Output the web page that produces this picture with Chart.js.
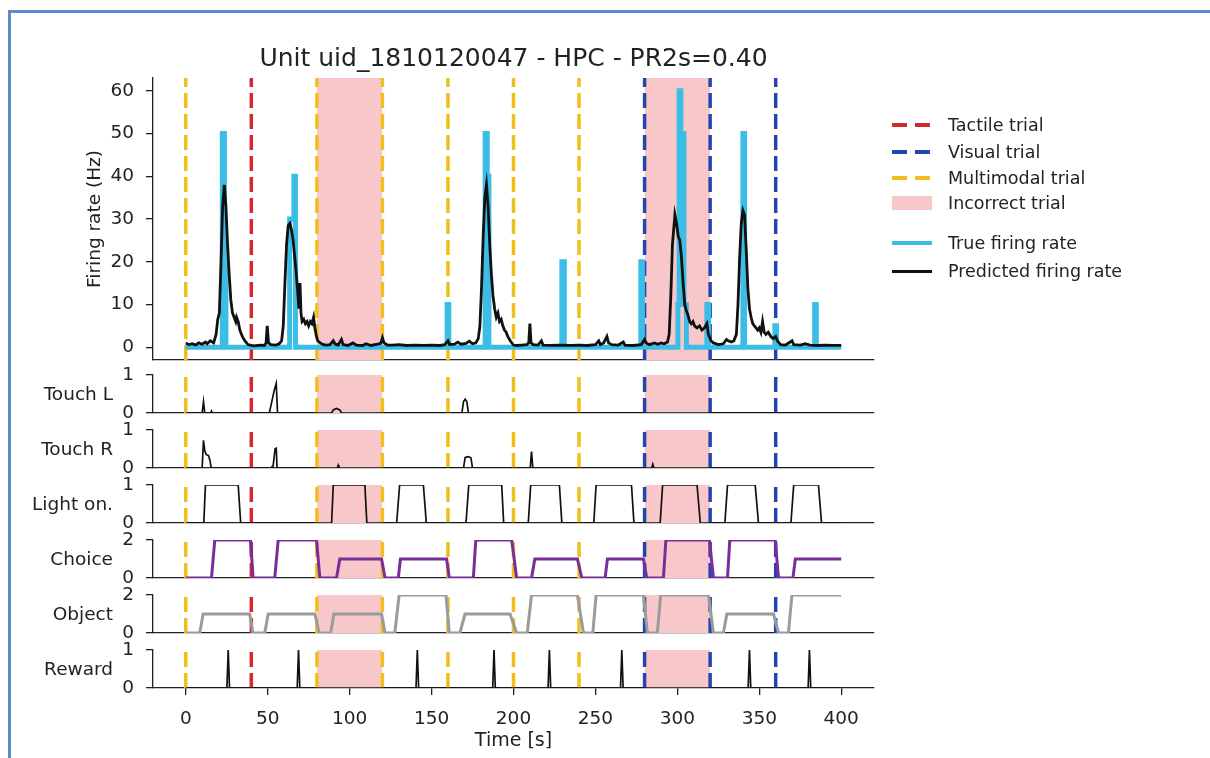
<!DOCTYPE html>
<html><head><meta charset="utf-8">
<script src="https://cdn.jsdelivr.net/npm/chart.js@4.4.0/dist/chart.umd.min.js"></script>
<style>
html,body{margin:0;padding:0;background:#fff;width:1210px;height:758px;overflow:hidden;position:relative;font-family:'DejaVu Sans',sans-serif;}
#frame{position:absolute;left:8px;top:10px;width:1220px;height:770px;border-top:3px solid #5b8ad0;border-left:3px solid #5b8ad0;}
canvas{position:absolute;left:0;}
.lg-line{position:absolute;left:892px;width:40px;}
.lg-text{position:absolute;left:948px;font-size:17.5px;color:#222;line-height:20px;white-space:nowrap;}
</style></head>
<body>
<div id="frame"></div>
<div id="charts"></div>
<div id="legend"></div>
<script>
const FONT = "'DejaVu Sans', sans-serif";
const INK = '#222222';

const timeTicks = [0, 50, 100, 150, 200, 250, 300, 350, 400];
const rateTicks = [0, 10, 20, 30, 40, 50, 60];
const binaryTicks = [0, 1];
const ternaryTicks = [0, 2];

const tactileTrials = [40];
const visualTrials = [280, 320, 360];
const multimodalTrials = [0, 80, 120, 160, 200, 240];
const incorrectTrials = [[80, 120], [280, 320]];

// True firing rate (binned, step-like)
const trueT = [0, 22.3, 22.3, 23.6, 23.6, 24.5, 24.5, 63.4, 63.4, 66, 66, 67, 67,
  159.5, 159.5, 160.5, 160.5, 182.7, 182.7, 184, 184, 185, 185,
  229.5, 229.5, 231, 231, 277.7, 277.7, 278.7, 278.7,
  300.3, 300.3, 301.1, 301.1, 302.1, 302.1, 304, 304, 305.5, 305.5,
  318, 318, 319, 319, 340, 340, 341, 341, 359.5, 359.5, 360.5, 360.5,
  383.8, 383.8, 384.8, 384.8, 400];
const trueRate = [0, 0, 50, 50, 20, 20, 0, 0, 30, 30, 40, 40, 0,
  0, 10, 10, 0, 0, 50, 50, 40, 40, 0,
  0, 20, 20, 0, 0, 20, 20, 0,
  0, 10, 10, 60, 60, 50, 50, 10, 10, 0,
  0, 10, 10, 0, 0, 50, 50, 0, 0, 5, 5, 0,
  0, 10, 10, 0, 0];

// Predicted firing rate
const predT = [0, 2, 4, 6, 8, 10, 12, 13, 15, 17, 18.5, 19.5, 20.5, 21.5, 22.5, 23.5, 24.5, 25.5, 26.5, 27.5,
  28.5, 29.5, 30.5, 31, 32, 33, 34.5, 36, 38, 40, 42, 44, 46, 48, 49, 49.7, 50.5, 52, 55, 57,
  58.5, 59.5, 60.5, 61.5, 62.5, 63.5, 64.5, 65.5, 66.5, 67.5, 68.5, 69, 69.7, 70.3, 71, 72, 73, 74, 75, 76,
  77, 78, 78.8, 79.5, 80.5, 82, 84, 86, 88, 90, 91, 93, 95, 96, 99, 102, 104, 108, 110, 113,
  117, 119, 120, 121, 123, 126, 130, 135, 140, 145, 150, 155, 158, 160, 161, 164, 166, 168, 171, 173,
  175, 177, 178.5, 179.5, 180.5, 181.5, 182.5, 183.5, 184.5, 185.5, 186.5, 187.5, 188.5, 189.5, 190.5, 191.5, 192.5, 193.5, 194.5, 195.5,
  196.5, 198, 200, 202, 205, 208, 209.3, 210, 210.7, 212, 215, 217, 218, 222, 228, 235, 240, 245, 250, 252,
  253, 255, 257, 258, 260, 264, 267, 268, 273, 278, 280, 281, 283, 286, 288, 290, 292, 294, 295, 296,
  297, 298.5, 299.5, 300.5, 301.5, 302.5, 303.5, 304.5, 305.5, 306.5, 307.5, 308.5, 309.5, 310.5, 312, 313.5, 315, 316.5, 318, 319,
  320.5, 322, 325, 328, 330, 331, 333, 334.5, 336, 337, 338, 339, 340, 341, 342, 343, 344, 345, 346, 347,
  348, 349, 350, 351, 352, 353, 354, 355.5, 357, 358.5, 360, 361, 363, 366, 370, 371, 375, 378, 381, 386,
  390, 395, 400];
const predRate = [1.0, 0.6, 0.8, 0.5, 1.0, 0.7, 1.2, 0.8, 1.5, 1.0, 3, 6.5, 8, 20, 33, 38, 33, 24, 17, 11,
  8, 7, 6, 7, 6, 4, 2.5, 1.5, 0.6, 0.4, 0.3, 0.4, 0.5, 0.4, 1, 5, 1, 0.6, 0.5, 0.8,
  1.5, 5, 15, 24, 28.5, 29, 27.5, 25, 21, 17, 12, 9, 15, 8, 6, 6.5, 5.5, 6, 5, 6,
  5.5, 7, 4.5, 3, 1.5, 1, 0.6, 0.5, 0.6, 1.5, 0.8, 0.5, 1.8, 0.6, 0.4, 1.0, 0.5, 0.4, 0.8, 0.4,
  0.7, 0.9, 2.2, 1.0, 0.5, 0.5, 0.6, 0.4, 0.5, 0.4, 0.5, 0.4, 0.6, 1.5, 0.6, 0.7, 1.2, 0.7, 0.9, 1.4,
  0.8, 1.0, 2, 5, 14, 26, 35, 38, 33, 24, 17, 12, 9, 7, 8, 6, 6.5, 5, 4, 3.5,
  2.5, 1.5, 0.5, 0.4, 0.5, 0.6, 1, 5.5, 1, 0.6, 0.5, 1.5, 0.5, 0.4, 0.5, 0.4, 0.5, 0.4, 0.6, 1.5,
  0.6, 1.0, 2.5, 1.0, 0.6, 0.5, 1.2, 0.5, 0.4, 0.6, 1.8, 1.0, 0.6, 1.0, 0.7, 1.0, 0.8, 1.2, 3, 12,
  24, 31, 29, 26, 25, 21, 15, 10, 8.5, 7.5, 6, 5.5, 6, 5, 4.5, 5, 4, 4.5, 5.5, 3,
  1.5, 1, 0.6, 0.8, 1.8, 1.5, 1.2, 1.5, 3, 10, 21, 29, 32, 31, 23, 14, 9, 7, 5.5, 5,
  4.5, 4, 4.5, 3.5, 6, 3.5, 3, 3.5, 2.5, 2, 2.5, 1.5, 0.6, 0.5, 1.5, 0.6, 0.5, 0.8, 0.5, 0.4,
  0.5, 0.4, 0.4];

const touchLT = [0, 10, 10.8, 11.6, 15.2, 15.7, 16.2, 51, 52.5, 54, 55.2, 56, 89, 90, 92, 94, 95, 168.5, 169.5, 170.5, 171.5, 172.5, 400];
const touchLV = [0, 0, 0.3, 0, 0, 0.05, 0, 0, 0.3, 0.6, 0.78, 0, 0, 0.08, 0.12, 0.08, 0, 0, 0.3, 0.36, 0.3, 0, 0];

const touchRT = [0, 10, 10.8, 11.6, 12.5, 13.8, 14.8, 15.5, 52, 52.5, 53.3, 54.5, 55.2, 55.7, 92.5, 93, 93.5,
  169.5, 170.5, 172.5, 174, 175, 210.2, 211, 211.8, 284.3, 285, 285.7, 400];
const touchRV = [0, 0, 0.73, 0.45, 0.35, 0.33, 0.2, 0, 0, 0.03, 0.05, 0.5, 0.52, 0, 0, 0.07, 0,
  0, 0.28, 0.3, 0.27, 0, 0, 0.43, 0, 0, 0.1, 0, 0];

const lightT = [0, 11, 12, 32, 33.5, 89, 90, 109.3, 110.5, 128.7, 130.5, 145, 146.8, 171, 172.7, 192.8, 194,
  209, 210.5, 228, 229.5, 249, 250.4, 272, 273.5, 289.5, 291, 312, 314, 329, 330.6, 347.5, 349.5,
  369.3, 371, 386.1, 388, 400];
const lightV = [0, 0, 1, 1, 0, 0, 1, 1, 0, 0, 1, 1, 0, 0, 1, 1, 0,
  0, 1, 1, 0, 0, 1, 1, 0, 0, 1, 1, 0, 0, 1, 1, 0,
  0, 1, 1, 0, 0];

const choiceT = [0, 15.7, 17.7, 39.5, 41.1, 54.3, 56.4, 79.8, 81.8, 92, 94, 119.5, 121.6, 129.7, 131, 159.2, 160.8,
  175.5, 177, 198.9, 201.9, 211, 213, 239, 241.7, 255.9, 257.3, 279.3, 281.3, 291.5, 293, 319.6, 322,
  330.6, 332, 359.7, 361.7, 370.5, 372, 400];
const choiceV = [0, 0, 2, 2, 0, 0, 2, 2, 0, 0, 1, 1, 0, 0, 1, 1, 0,
  0, 2, 2, 0, 0, 1, 1, 0, 0, 1, 1, 0, 0, 2, 2, 0,
  0, 2, 2, 0, 0, 1, 1];

const objectT = [0, 8.5, 10.6, 39, 41, 48.2, 50.3, 78.8, 81.4, 88.4, 90.4, 119.5, 121.6, 127.6, 130.2, 158.8, 160.8,
  167.3, 170.4, 197.9, 201.9, 208.4, 211, 239, 242.7, 248.4, 250.4, 279.3, 281.7, 287.8, 289.8, 319, 322,
  328.1, 330.2, 358.7, 361.7, 367.8, 369.9, 400];
const objectV = [0, 0, 1, 1, 0, 0, 1, 1, 0, 0, 1, 1, 0, 0, 2, 2, 0,
  0, 1, 1, 0, 0, 2, 2, 0, 0, 2, 2, 0, 0, 2, 2, 0,
  0, 1, 1, 0, 0, 2, 2];

const rewardT = [0, 25.1, 25.9, 26.7, 68, 68.8, 69.6, 140.5, 141.3, 142.1, 187.3, 188.1, 188.9,
  221.1, 221.9, 222.7, 265.3, 266.1, 266.9, 343.2, 344, 344.8, 379.8, 380.6, 381.4, 400];
const rewardV = [0, 0, 1, 0, 0, 1, 0, 0, 1, 0, 0, 1, 0,
  0, 1, 0, 0, 1, 0, 0, 1, 0, 0, 1, 0, 0];

const legendItems = [
  {text: 'Tactile trial', kind: 'dash', color: '#d42a2f', y: 125},
  {text: 'Visual trial', kind: 'dash', color: '#2444b0', y: 152},
  {text: 'Multimodal trial', kind: 'dash', color: '#f2bf1a', y: 178},
  {text: 'Incorrect trial', kind: 'box', color: '#f8c7ca', y: 203},
  {text: 'True firing rate', kind: 'line', color: '#3bbde6', y: 243, w: 4},
  {text: 'Predicted firing rate', kind: 'line', color: '#111111', y: 271, w: 3}
];

const COLORS = {tactile: '#d42a2f', visual: '#2444b0', multi: '#f2bf1a', pink: '#f8c7ca',
  cyan: '#3bbde6', black: '#111111', purple: '#7a2c9b', gray: '#9b9b9b'};

function xy(ts, vs) { return ts.map((t, i) => ({x: t, y: vs[i]})); }

function trialLines(times, color, ymin, ymax) {
  const data = [];
  times.forEach(t => { data.push({x: t, y: ymin}, {x: t, y: ymax}, {x: t, y: null}); });
  return {data, borderColor: color, borderWidth: 3.5, borderDash: [15, 6], borderCapStyle: 'butt',
    pointRadius: 0, spanGaps: false, order: 5};
}
function spans(ymax) {
  return incorrectTrials.map(([s, e]) => ({data: [{x: s, y: ymax}, {x: e, y: ymax}],
    borderWidth: 0, borderColor: 'rgba(0,0,0,0)', backgroundColor: COLORS.pink, fill: 'start', pointRadius: 0, order: 10}));
}

const panelLabel = {
  id: 'panelLabel',
  afterDraw(chart, args, opts) {
    if (!opts || !opts.text) return;
    const {ctx, chartArea} = chart;
    ctx.save();
    ctx.font = "18.5px 'DejaVu Sans'";
    ctx.fillStyle = INK;
    ctx.textAlign = 'right';
    ctx.textBaseline = 'middle';
    ctx.fillText(opts.text, 113, (chartArea.top + chartArea.bottom) / 2 + 1);
    ctx.restore();
  }
};

const CW = 1027;
function makePanel(p) {
  const padTop = p.main ? 0 : 24;
  const titleBox = p.main ? 53 : 0;
  const xAxisH = p.bottom ? 70 : 0;
  const padBottom = p.bottom ? 0 : 24;
  const cvTop = p.top - padTop - titleBox;
  const cvH = padTop + titleBox + p.h + xAxisH + padBottom;
  const cv = document.createElement('canvas');
  cv.width = CW; cv.height = cvH;
  cv.style.top = cvTop + 'px'; cv.style.width = CW + 'px'; cv.style.height = cvH + 'px';
  document.getElementById('charts').appendChild(cv);
  const datasets = p.series.concat([
    trialLines(tactileTrials, COLORS.tactile, p.ymin, p.ymax),
    trialLines(visualTrials, COLORS.visual, p.ymin, p.ymax),
    trialLines(multimodalTrials, COLORS.multi, p.ymin, p.ymax)
  ], spans(p.ymax));
  new Chart(cv, {
    type: 'line',
    data: {datasets},
    plugins: [panelLabel],
    options: {
      responsive: false, animation: false, devicePixelRatio: 1, events: [],
      layout: {padding: {top: padTop, bottom: padBottom, left: 0, right: CW - 874}},
      elements: {line: {tension: 0, borderJoinStyle: 'miter'}, point: {radius: 0}},
      plugins: {
        legend: {display: false}, tooltip: {enabled: false},
        title: p.main ? {display: true, fullSize: false, text: 'Unit uid_1810120047 - HPC - PR2s=0.40',
          font: {family: FONT, size: 25, weight: 'normal'}, color: INK, padding: {top: 19, bottom: 4}} : {display: false},
        panelLabel: {text: p.label || ''}
      },
      scales: {
        x: {
          type: 'linear', min: -20, max: 420,
          afterBuildTicks: s => { s.ticks = timeTicks.map(v => ({value: v})); },
          afterFit: s => { s.height = xAxisH; s.paddingLeft = 0; s.paddingRight = 0; },
          grid: {display: !!p.bottom, drawOnChartArea: false, drawTicks: true, tickLength: 7, color: INK, lineWidth: 1.3},
          border: {display: true, color: INK, width: 1.3},
          ticks: {display: !!p.bottom, font: {family: FONT, size: 18.5}, color: INK, padding: 13, maxRotation: 0, autoSkip: false},
          title: {display: !!p.bottom, text: 'Time [s]', font: {family: FONT, size: 19}, color: INK, padding: {top: 0, bottom: 6}}
        },
        y: {
          type: 'linear', min: p.ymin, max: p.ymax,
          afterBuildTicks: s => { s.ticks = p.yTicks.map(v => ({value: v})); },
          afterFit: s => { s.width = 153; s.paddingTop = 0; s.paddingBottom = 0; },
          grid: {display: true, drawOnChartArea: false, drawTicks: true, tickLength: 7, color: INK, lineWidth: 1.3},
          border: {display: true, color: INK, width: 1.3},
          ticks: {font: {family: FONT, size: 18.5}, color: INK, padding: 12, autoSkip: false},
          title: p.main ? {display: true, text: 'Firing rate (Hz)', font: {family: FONT, size: 18.5}, color: INK, padding: {top: 84, bottom: 0}} : {display: false}
        }
      }
    }
  });
}

function line(ts, vs, color, w, order) {
  return {data: xy(ts, vs), borderColor: color, borderWidth: w, pointRadius: 0, fill: false, order};
}

makePanel({main: true, top: 78, h: 282, ymin: -3, ymax: 63, yTicks: rateTicks,
  series: [line(predT, predRate, COLORS.black, 2.8, 1), line(trueT, trueRate, COLORS.cyan, 5, 2)]});
makePanel({label: 'Touch L', top: 375, h: 38, ymin: 0, ymax: 1, yTicks: binaryTicks, series: [line(touchLT, touchLV, COLORS.black, 1.7, 1)]});
makePanel({label: 'Touch R', top: 430, h: 38, ymin: 0, ymax: 1, yTicks: binaryTicks, series: [line(touchRT, touchRV, COLORS.black, 1.7, 1)]});
makePanel({label: 'Light on.', top: 485, h: 38, ymin: 0, ymax: 1, yTicks: binaryTicks, series: [line(lightT, lightV, COLORS.black, 1.7, 1)]});
makePanel({label: 'Choice', top: 540, h: 38, ymin: 0, ymax: 2, yTicks: ternaryTicks, series: [line(choiceT, choiceV, COLORS.purple, 3, 1)]});
makePanel({label: 'Object', top: 595, h: 38, ymin: 0, ymax: 2, yTicks: ternaryTicks, series: [line(objectT, objectV, COLORS.gray, 3, 1)]});
makePanel({label: 'Reward', top: 650, h: 38, ymin: 0, ymax: 1, yTicks: binaryTicks, bottom: true, series: [line(rewardT, rewardV, COLORS.black, 1.7, 1)]});

// Legend
const lg = document.getElementById('legend');
legendItems.forEach(it => {
  const sw = document.createElement('div');
  sw.className = 'lg-line';
  if (it.kind === 'dash') {
    sw.style.top = (it.y - 1.75) + 'px'; sw.style.height = '3.5px';
    sw.style.background = `linear-gradient(to right, ${it.color} 0 15px, transparent 15px 23px, ${it.color} 23px 38px, transparent 38px)`;
  } else if (it.kind === 'box') {
    sw.style.top = (it.y - 7) + 'px'; sw.style.height = '14px'; sw.style.background = it.color;
  } else {
    sw.style.top = (it.y - it.w / 2) + 'px'; sw.style.height = it.w + 'px'; sw.style.background = it.color;
  }
  lg.appendChild(sw);
  const tx = document.createElement('div');
  tx.className = 'lg-text';
  tx.style.top = (it.y - 10) + 'px';
  tx.textContent = it.text;
  lg.appendChild(tx);
});
</script>
</body></html>
